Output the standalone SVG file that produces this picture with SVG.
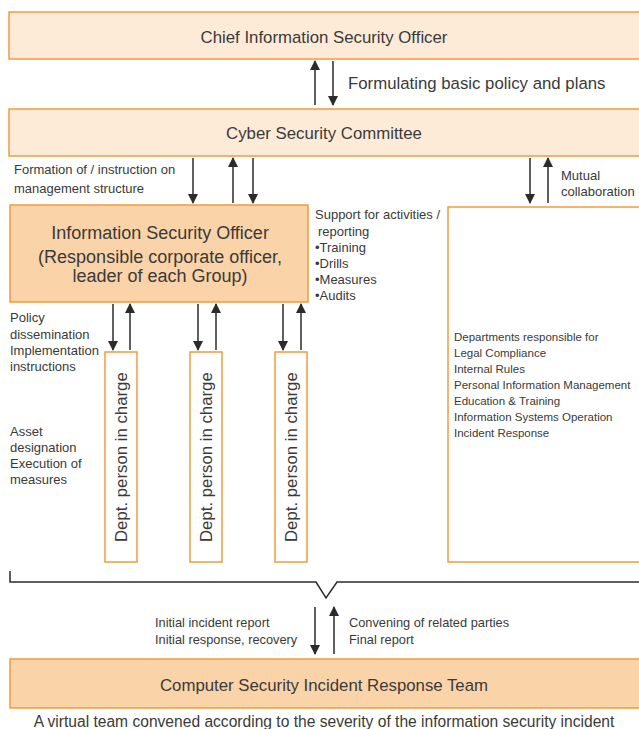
<svg xmlns="http://www.w3.org/2000/svg" width="639" height="729" viewBox="0 0 639 729">
<defs>
<marker id="ah" viewBox="0 0 10 10" refX="9" refY="5" markerWidth="10" markerHeight="10" markerUnits="userSpaceOnUse" orient="auto">
<path d="M0,0 L10,5 L0,10 z" fill="#2b2b2b"/>
</marker>
<style>
text{font-family:"Liberation Sans",Arial,sans-serif;fill:#3a3a3a}
.light{fill:#fdebd8;stroke:#f39a3c;stroke-width:1.5}
.dark{fill:#fad3a8;stroke:#f39a3c;stroke-width:1.5}
.white{fill:#fff;stroke:#f39a3c;stroke-width:1.5}
.ar{stroke:#2b2b2b;stroke-width:1.5;fill:none;marker-end:url(#ah)}
.t17{font-size:16.8px}
.t18{font-size:18px}
.t13{font-size:13px}
.t12{font-size:12.8px}
.t11{font-size:11.5px}
.mid{text-anchor:middle}
</style>
</defs>
<g id="ciso">
<rect class="light" x="9" y="12" width="640" height="47"/>
<text class="t17 mid" x="324" y="43">Chief Information Security Officer</text>
</g>
<g id="committee">
<rect class="light" x="9" y="109" width="640" height="47"/>
<text class="t17 mid" x="324" y="139">Cyber Security Committee</text>
</g>
<g id="iso">
<rect class="dark" x="10" y="205" width="298" height="97"/>
<text class="t18 mid" x="160" y="239">Information Security Officer</text>
<text class="t18 mid" x="160" y="263">(Responsible corporate officer,</text>
<text class="t18 mid" x="160" y="282">leader of each Group)</text>
</g>
<g id="departments">
<rect class="white" x="448" y="207" width="200" height="355"/>
<text class="t11" x="454" y="341">Departments responsible for</text>
<text class="t11" x="454" y="357">Legal Compliance</text>
<text class="t11" x="454" y="373">Internal Rules</text>
<text class="t11" x="454" y="389">Personal Information Management</text>
<text class="t11" x="454" y="405">Education &amp; Training</text>
<text class="t11" x="454" y="421">Information Systems Operation</text>
<text class="t11" x="454" y="437">Incident Response</text>
</g>
<g id="dept1">
<rect class="white" x="105" y="352" width="32" height="210"/>
<text class="t17" transform="translate(127,542) rotate(-90)">Dept. person in charge</text>
</g>
<g id="dept2">
<rect class="white" x="190" y="352" width="32" height="210"/>
<text class="t17" transform="translate(212,542) rotate(-90)">Dept. person in charge</text>
</g>
<g id="dept3">
<rect class="white" x="275" y="352" width="32" height="210"/>
<text class="t17" transform="translate(297,542) rotate(-90)">Dept. person in charge</text>
</g>
<g id="csirt">
<rect class="dark" x="10" y="659" width="640" height="49"/>
<text class="t17 mid" x="324" y="691">Computer Security Incident Response Team</text>
</g>
<g id="labels">
<text class="t17" x="348" y="89">Formulating basic policy and plans</text>
<text class="t13" x="14" y="174">Formation of / instruction on</text>
<text class="t13" x="14" y="193">management structure</text>
<text class="t13" x="561" y="180">Mutual</text>
<text class="t13" x="561" y="196">collaboration</text>
<text class="t13" x="315" y="219">Support for activities /</text>
<text class="t13" x="318" y="236">reporting</text>
<text class="t13" x="315" y="252">•Training</text>
<text class="t13" x="315" y="268">•Drills</text>
<text class="t13" x="315" y="284">•Measures</text>
<text class="t13" x="315" y="300">•Audits</text>
<text class="t13" x="10" y="322">Policy</text>
<text class="t13" x="10" y="339">dissemination</text>
<text class="t13" x="10" y="355">Implementation</text>
<text class="t13" x="10" y="371">instructions</text>
<text class="t13" x="10" y="436">Asset</text>
<text class="t13" x="10" y="452">designation</text>
<text class="t13" x="10" y="468">Execution of</text>
<text class="t13" x="10" y="484">measures</text>
<text class="t12" x="155" y="627">Initial incident report</text>
<text class="t12" x="155" y="644">Initial response, recovery</text>
<text class="t12" x="349" y="627">Convening of related parties</text>
<text class="t12" x="349" y="644">Final report</text>
<text class="mid" font-size="15.6" x="324" y="727">A virtual team convened according to the severity of the information security incident</text>
</g>
<g id="connectors">
<line class="ar" x1="315" y1="105" x2="315" y2="61"/>
<line class="ar" x1="333" y1="61" x2="333" y2="105"/>
<line class="ar" x1="193" y1="158" x2="193" y2="203"/>
<line class="ar" x1="233" y1="203" x2="233" y2="158"/>
<line class="ar" x1="253" y1="158" x2="253" y2="203"/>
<line class="ar" x1="530" y1="158" x2="530" y2="203"/>
<line class="ar" x1="548" y1="203" x2="548" y2="158"/>
<line class="ar" x1="113" y1="304" x2="113" y2="350"/>
<line class="ar" x1="130" y1="350" x2="130" y2="304"/>
<line class="ar" x1="198" y1="304" x2="198" y2="350"/>
<line class="ar" x1="216" y1="350" x2="216" y2="304"/>
<line class="ar" x1="283" y1="304" x2="283" y2="350"/>
<line class="ar" x1="301" y1="350" x2="301" y2="304"/>
<line class="ar" x1="315" y1="607" x2="315" y2="654"/>
<line class="ar" x1="334" y1="654" x2="334" y2="607"/>
<path d="M10,571 V582 H316 L326,598 L337,582 H639" fill="none" stroke="#2b2b2b" stroke-width="1.5"/>
</g>
</svg>
